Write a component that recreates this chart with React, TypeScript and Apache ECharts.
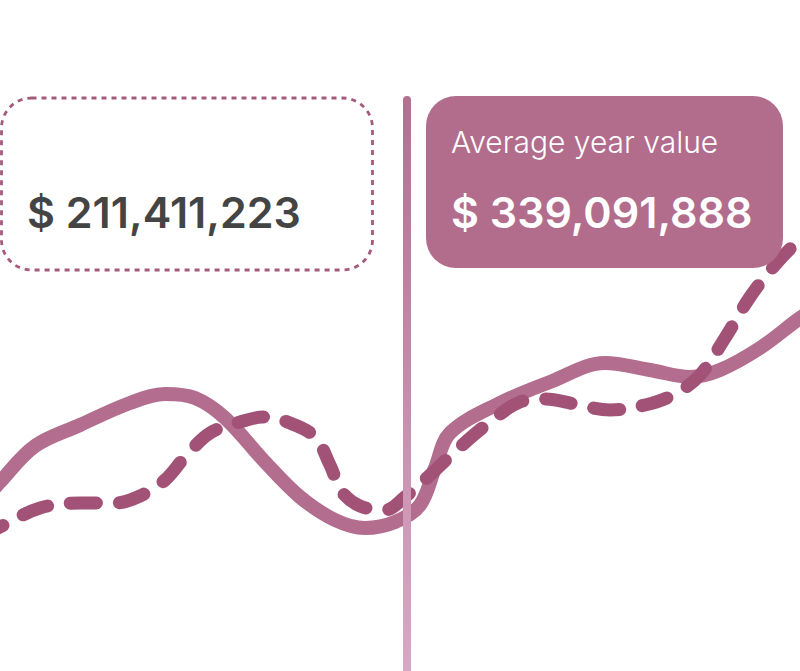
import React, { useEffect, useRef } from "react";
import * as echarts from "echarts";

const solidX = [-20, 0, 35, 80, 130, 165, 195, 225, 265, 300, 335, 365, 395, 420, 435, 450, 500, 550, 605, 650, 690, 720, 760, 800, 830];
const solidY = [166, 189, 225, 246, 268, 277, 273, 253, 209, 174, 151, 143, 149, 166, 203, 238, 268, 289, 308, 301, 294, 301, 323, 353, 373];

const dashX = [-20, 0, 40, 80, 115, 140, 165, 185, 210, 240, 263, 290, 315, 330, 342, 360, 385, 405, 430, 460, 490, 520, 545, 575, 610, 645, 675, 700, 725, 750, 775, 800, 820];
const dashY = [133, 144, 163, 168, 168, 175, 191, 214, 238, 249, 254, 248, 234, 206, 179, 165, 161, 174, 196, 224, 249, 269, 272, 267, 261, 266, 277, 296, 333, 374, 406, 431, 443];

const leftValueLabel = "$ 211,411,223";
const rightTitle = "Average year value";
const rightValueLabel = "$ 339,091,888";

const SOLID = "#b36d8e";
const DASH = "#a35277";
const FONT = "Inter, 'Noto Sans', sans-serif";

export default function App() {
  const ref = useRef<HTMLDivElement>(null);
  useEffect(() => {
    if (!ref.current) return;
    const chart = echarts.init(ref.current, undefined, { renderer: "svg" });
    chart.setOption({
      animation: false,
      backgroundColor: "#ffffff",
      grid: { left: 0, right: 0, top: 0, bottom: 0 },
      xAxis: { type: "value", min: 0, max: 800, show: false },
      yAxis: { type: "value", min: 0, max: 671, show: false },
      series: [
        {
          type: "line",
          data: solidX.map((x, i) => [x, solidY[i]]),
          smooth: 0.35,
          showSymbol: false,
          lineStyle: { color: SOLID, width: 14, cap: "round", join: "round" },
          z: 2,
        },
        {
          type: "line",
          data: dashX.map((x, i) => [x, dashY[i]]),
          smooth: 0.35,
          showSymbol: false,
          lineStyle: { color: DASH, width: 13, type: [26, 23], cap: "round", join: "round" },
          z: 3,
        },
      ],
      graphic: [
        {
          type: "rect",
          shape: { x: 1.5, y: 98, width: 371, height: 172, r: 30 },
          style: { fill: "#ffffff", stroke: "#a35a7d", lineWidth: 2.8, lineDash: [5, 5] },
          z: 10,
        },
        {
          type: "text",
          x: 27,
          y: 233,
          style: {
            text: leftValueLabel,
            fill: "#444444",
            font: `600 43px ${FONT}`,
            textVerticalAlign: "bottom",
          },
          z: 11,
        },
        {
          type: "rect",
          shape: { x: 426, y: 96, width: 357, height: 172, r: 30 },
          style: { fill: "#b26d8d" },
          z: 10,
        },
        {
          type: "text",
          x: 451,
          y: 157,
          style: {
            text: rightTitle,
            fill: "#ffffff",
            font: `300 30px ${FONT}`,
            textVerticalAlign: "bottom",
          },
          z: 11,
        },
        {
          type: "text",
          x: 451,
          y: 233,
          style: {
            text: rightValueLabel,
            fill: "#ffffff",
            font: `600 43px ${FONT}`,
            textVerticalAlign: "bottom",
          },
          z: 11,
        },
        {
          type: "rect",
          shape: { x: 403, y: 96, width: 8, height: 580, r: [4, 4, 0, 0] },
          style: {
            fill: new echarts.graphic.LinearGradient(0, 0, 0, 1, [
              { offset: 0, color: "#b56f90" },
              { offset: 1, color: "#d8a8c5" },
            ]),
          },
          z: 100,
        },
      ],
    });
    return () => chart.dispose();
  }, []);
  return (
    <div
      ref={ref}
      style={{ position: "fixed", left: 0, top: 0, width: 800, height: 671 }}
    />
  );
}
